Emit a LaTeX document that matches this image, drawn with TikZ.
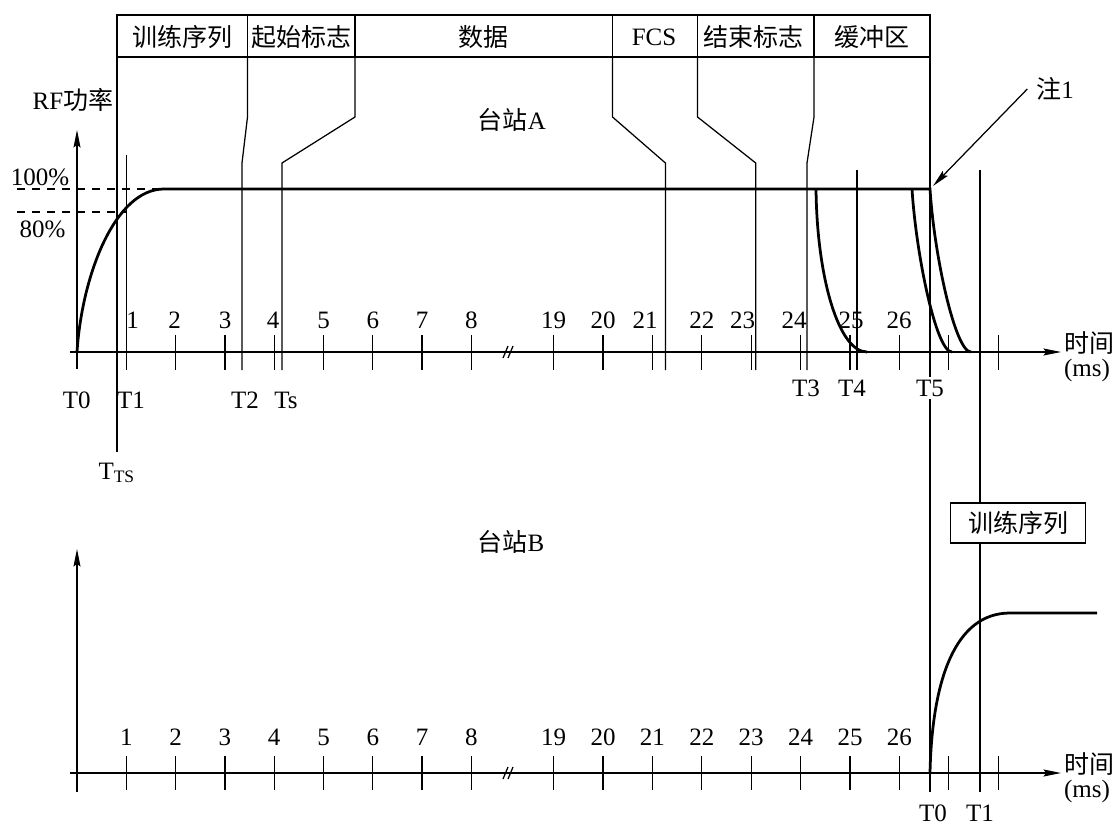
\documentclass[tikz,border=0pt]{standalone}
\usepackage{fontspec}
\setmainfont{Liberation Serif}
\newfontfamily\cjk{Noto Sans CJK SC}
\usetikzlibrary{arrows.meta}
\begin{document}
\begin{tikzpicture}[>={Stealth[length=7pt,width=2.8pt,inset=1pt]}, x=0.4pt, y=-0.4pt, line width=0.5pt,
    pwr/.style={line width=1.1pt},
    mask/.style={fill=white, inner sep=1pt},
    tagbox/.style={draw, fill=white, minimum width=54pt, minimum height=15.6pt}]
    \useasboundingbox (0,0) rectangle (1117,825);
    % 帧结构表头
    \draw (117,15) rectangle (930,57);
    \foreach \x in {247.5,355,612.5,697.5,814}{\draw (\x,15)--(\x,57);
    }
    \node (hTrain) at (182,37) {\cjk 训练序列};
    \node (hStart) at (301,37) {\cjk 起始标志};
    \node (hData) at (483.5,37) {\cjk 数据};
    \node (hFcs) at (654,37) {FCS};
    \node (hEnd) at (753,37) {\cjk 结束标志};
    \node (hBuf) at (872,37) {\cjk 缓冲区};
    % 台站A
    \node (yA) at (73,100) {RF{\cjk 功率}};
    \node (staA) at (512,120) {{\cjk 台站}A};
    \draw[->] (77,369) -- (77,130);% 纵轴
    \draw[->] (70,352) -- (1061,352);% 时间轴
    \node (timeA) at (1089,343) {\cjk 时间};
    \node (msA) at (1087,370) {(ms)};
    \foreach \k in {2,...,8}{\draw ({126.3+49.3*(\k-1)},335)--++(0,35);
    }
    \foreach \k in {19,...,28}{\draw ({553.6+49.4*(\k-19)},335)--++(0,35);
    }
    \foreach \d in {0,5}{\draw (503+\d,358)--++(5,-12);
    }
    \foreach \k/\x in {1/132.7,2/174.5,3/225,4/273,5/323.5,6/372.8,7/422.1,8/471.4,
        19/553.6,20/603,21/645,22/701.8,23/742.5,24/794,25/851,26/899}{\node (la\k) at (\x,320) {\k};
    }
    \draw[dashed] (17,189) -- (164,189);
    \draw[dashed] (17,212) -- (126.3,212);
    \node (p100) at (40,177) {100\%};
    \node (p80) at (42.5,229) {80\%};
    % 各时刻竖线
    \draw (117,57) -- (117,452);
    \draw (126.3,155) -- (126.3,370);
    \draw (247.5,57) -- (247.5,117) -- (242,163) -- (242,370);
    \draw (355,57) -- (355,117) -- (282,163) -- (282,370);
    \draw (612.5,57) -- (612.5,117) -- (665.4,163) -- (665.4,370);
    \draw (697.5,57) -- (697.5,117) -- (755.7,163) -- (755.7,370);
    \draw (814,57) -- (814,117) -- (807,163) -- (807,370);
    \draw (857,170) -- (857,370);
    \draw (930,57) -- (930,792);
    \draw (980,170) -- (980,792);
    \node (tTS) at (117,473) {T\textsubscript{TS}};
    \node (a0) at (76.7,400) {T0};
    \node (a1) at (131,400) {T1};
    \node (a2) at (245,400) {T2};
    \node (as) at (286,400) {Ts};
    \node (a3) at (806,388) {T3};
    \node (a4) at (852,388) {T4};
    \node[mask] (a5) at (930,388) {T5};
    % 功率曲线
    \draw[pwr] (77,352) .. controls (82,275) and (115,189) .. (164,189) -- (930,189)
        .. controls (934,254) and (955,352) .. (971,352);
    \draw[pwr] (816,189) .. controls (817,279) and (839,352) .. (867,352);
    \draw[pwr] (912,189) .. controls (916,254) and (936,352) .. (952,352);
    \node (note) at (1055,89) {{\cjk 注}1};
    \coordinate (t5top) at (933,186);
    \draw[->] (note.west) -- (t5top);
    % 台站B
    \node (staB) at (511,542) {{\cjk 台站}B};
    \draw[->] (77,792) -- (77,549);
    \draw[->] (70,773) -- (1061,773);
    \node (timeB) at (1089,764) {\cjk 时间};
    \node (msB) at (1087,791) {(ms)};
    \foreach \k in {1,...,8}{\draw ({126.3+49.3*(\k-1)},756)--++(0,34);
        \node (lb\k) at ({126.3+49.3*(\k-1)},737) {\k};
    }
    \foreach \k in {19,...,28}{\draw ({553.6+49.4*(\k-19)},756)--++(0,34);
    }
    \foreach \k in {19,...,26}{\node (lb\k) at ({553.6+49.4*(\k-19)},737) {\k};
    }
    \foreach \d in {0,5}{\draw (503+\d,779)--++(5,-12);
    }
    \node[tagbox] (trainB) at (1018,523) {\cjk 训练序列};
    \node (b0) at (933,813) {T0};
    \node (b1) at (980,813) {T1};
    \draw[pwr] (930,773) .. controls (932,680) and (955,613) .. (1010,613) -- (1097,613);
\end{tikzpicture}
\end{document}
